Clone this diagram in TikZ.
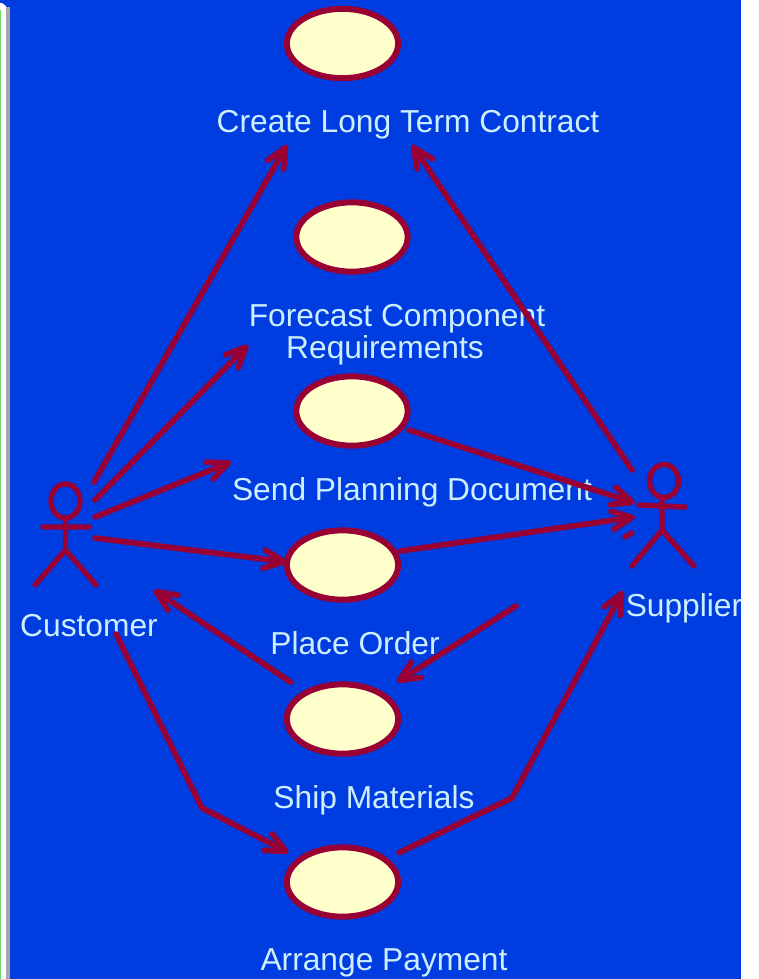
\documentclass[tikz,border=0pt]{standalone}
\usepackage{fontspec}
\setmainfont{Liberation Sans}
\usetikzlibrary{arrows.meta,shapes.geometric}
\definecolor{bgblue}{HTML}{003DE0}
\definecolor{wine}{HTML}{990033}
\definecolor{cream}{HTML}{FFFFCC}
\definecolor{lbl}{HTML}{CCEEFF}
\definecolor{stripg}{HTML}{66DD66}
\definecolor{stripgray}{HTML}{A6A6A6}
\pgfdeclarearrow{
  name=VHead,
  setup code={%
    \pgfarrowssettipend{2.15pt}%
    \pgfarrowssetlineend{-1pt}%
    \pgfarrowssetbackend{-17pt}%
    \pgfarrowssetvisualbackend{-17pt}%
  },
  drawing code={%
    \pgfsetdash{}{0pt}%
    \pgfsetlinewidth{4.3pt}%
    \pgfsetroundcap\pgfsetroundjoin
    \pgfpathmoveto{\pgfpoint{-15pt}{6.8pt}}%
    \pgfpathlineto{\pgfpointorigin}%
    \pgfpathlineto{\pgfpoint{-15pt}{-6.8pt}}%
    \pgfusepathqstroke
  },
}
\tikzset{
  x=0.75pt,y=-0.75pt,
  usecase/.style={ellipse,draw=wine,fill=cream,line width=4.5pt,minimum width=83.5pt,minimum height=52pt,inner sep=0pt},
  lab/.style={text=lbl,font=\fontsize{23.8}{24}\selectfont,inner sep=0pt,anchor=base,align=center},
  assoc/.style={draw=wine,line width=4.3pt,line cap=round,line join=round,-{VHead}},
  stick/.style={draw=wine,line width=4pt,line cap=round,line join=round},
}
\begin{document}
\begin{tikzpicture}
\useasboundingbox (0,0) rectangle (759,979);
\fill[white] (0,0) rectangle (759,979);
\fill[bgblue] (0,0) rectangle (741,979);
\fill[white] (0,12) -- (0,3) -- (2,3) -- (6,6) -- (6,979) -- (0,979) -- cycle;
\fill[stripg] (0,10) rectangle (1,979);
\fill[stripgray] (6,7) rectangle (10,979);

% use cases
\node[usecase] (create) at (342.5,43.5) {};
\node[usecase] (forecast) at (352,237) {};
\node[usecase] (send) at (352,411) {};
\node[usecase] (place) at (342.5,565) {};
\node[usecase] (ship) at (342.5,719) {};
\node[usecase] (pay) at (342.5,882) {};

% labels
\node[lab] (lcreate) at (408,132) {Create Long Term Contract};
\node[lab] (lforecast) at (397,326) {Forecast Component};
\node[lab] (lforecastb) at (385,358) {Requirements};
\node[lab] (lsend) at (412,500) {Send Planning Document};
\node[lab] (lplace) at (355,654) {Place Order};
\node[lab] (lship) at (374,808) {Ship Materials};
\node[lab] (lpay) at (384,970) {Arrange Payment};
\node[lab] (lcust) at (89,636) {Customer};
\node[lab] (lsupp) at (684,616) {Supplier};

% actor: customer
\coordinate (cneck) at (65.5,518);
\draw[stick] (65.5,501) ellipse (14.5 and 17);
\draw[stick] (cneck) -- (65.5,550) (43,527) -- (89,527) (35,585) -- (65.5,550) -- (96,585);
% actor: supplier
\coordinate (sneck) at (662,498);
\draw[stick] (664,481) ellipse (14.5 and 16.5);
\draw[stick] (sneck) -- (662,530) (639,505) -- (685,507) (632,566) -- (662,530) -- (694,566);

% connector ends
\coordinate (c1) at (94,482);
\coordinate (c2) at (95,500);
\coordinate (c3) at (95,517);
\coordinate (c4) at (95,538);
\coordinate (c5) at (154,590);
\coordinate (c6) at (116,634);
\coordinate (s1) at (632,470);
\coordinate (s2) at (635,503);
\coordinate (s3) at (635,517);
\coordinate (s4) at (516,606);
\coordinate (s5) at (623,591);
\coordinate (a1) at (287,145);
\coordinate (a2) at (412,145);
\coordinate (a3) at (248,345);
\coordinate (a4) at (231,462);
\coordinate (a5) at (287,562);
\coordinate (a6) at (397,682);
\coordinate (w1) at (202,808);
\coordinate (w2) at (512,798);

\draw[assoc] (c1) -- (a1);
\draw[assoc] (s1) -- (a2);
\draw[assoc] (c2) -- (a3);
\draw[assoc] (c3) -- (a4);
\draw[assoc] (c4) -- (a5);
\draw[assoc] (send) ++(57,19) -- (s2);
\draw[assoc] (place) ++(58,-14) -- (s3);
\draw[assoc] (s4) -- (a6);
\draw[assoc] (ship) ++(-52,-37) -- (c5);
\draw[assoc] (c6) -- (w1) -- ([xshift=-40.5pt,yshift=22pt]pay.center);
\draw[assoc] ([xshift=42.5pt,yshift=22pt]pay.center) -- (w2) -- (s5);
\coordinate (m1) at (625,537);
\coordinate (m2) at (632,533);
\draw[stick] (m1) -- (m2);
\end{tikzpicture}
\end{document}
